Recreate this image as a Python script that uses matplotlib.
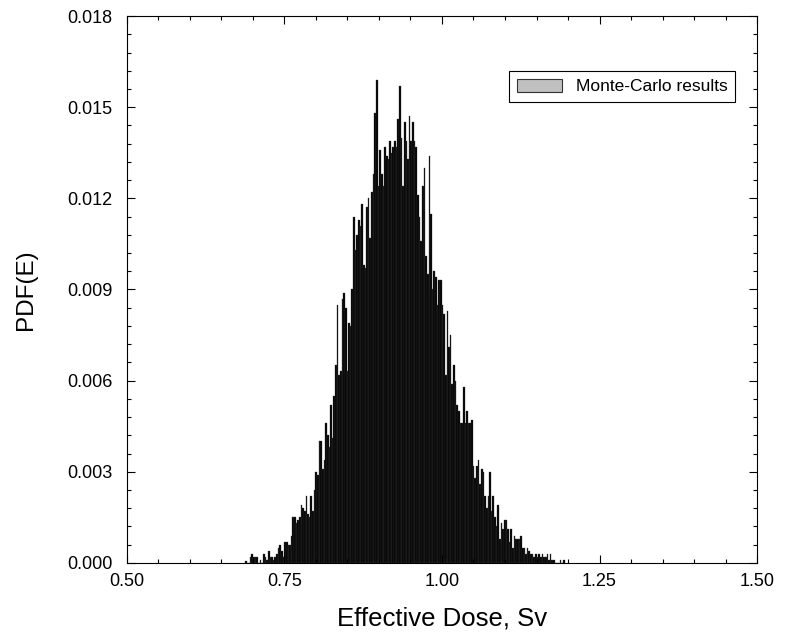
import numpy as np
import matplotlib
matplotlib.use("Agg")
import matplotlib.pyplot as plt
from matplotlib.patches import Patch
from matplotlib.ticker import MultipleLocator

plt.rcParams['font.family'] = ['Liberation Sans', 'DejaVu Sans']

# Monte-Carlo histogram of effective dose (PDF per bin)
bin_start = 0.6875
bin_width = 0.0026
pdf_values = [
    0.00005, 0.0, 0.0, 0.0002, 0.0003, 0.0002, 0.0002, 0.0002, 0.0, 0.0001,
    0.0, 0.0003, 0.0002, 0.0001, 0.0004, 0.0002, 0.0002, 0.0001, 0.0002, 0.0003,
    0.0005, 0.0006, 0.0004, 0.0002, 0.0007, 0.0007, 0.0006, 0.0006, 0.0009, 0.0015,
    0.0015, 0.0013, 0.0014, 0.0015, 0.0019, 0.0018, 0.0017, 0.0022, 0.0016, 0.0015,
    0.0022, 0.0017, 0.0024, 0.0030, 0.0029, 0.0040, 0.0040, 0.0031, 0.0034, 0.0046,
    0.0042, 0.0038, 0.0052, 0.0041, 0.0055, 0.0065, 0.0085, 0.0062, 0.0063, 0.0087,
    0.0089, 0.0084,
    0.0063, 0.0079, 0.0078, 0.0090, 0.0114, 0.0103, 0.0108, 0.0113, 0.0111, 0.0118,
    0.0098, 0.0097, 0.0117, 0.0120, 0.0107, 0.0122, 0.0128, 0.0148, 0.0159, 0.0124,
    0.0136, 0.0128, 0.0124, 0.0137, 0.0134, 0.0133, 0.0139, 0.0135, 0.0137, 0.0139,
    0.0137, 0.0146, 0.0157, 0.0140, 0.0124, 0.0145, 0.0139, 0.0133, 0.0147, 0.0139,
    0.0145, 0.0139, 0.0137, 0.0121, 0.0114, 0.0106, 0.0124, 0.0130, 0.0101, 0.0095,
    0.0134, 0.0115, 0.0090, 0.0096, 0.0094, 0.0085, 0.0093, 0.0093, 0.0085, 0.0082,
    0.0062, 0.0083, 0.0071, 0.0075, 0.0059, 0.0065, 0.0060, 0.0052, 0.0050, 0.0046,
    0.0046, 0.0058, 0.0046, 0.0050, 0.0046, 0.0046, 0.0047, 0.0032, 0.0028, 0.0032,
    0.0034, 0.0026, 0.0031, 0.0030, 0.0022, 0.0018, 0.0022, 0.0030, 0.0017, 0.0022,
    0.0015, 0.0012, 0.0019, 0.0008, 0.0013, 0.0011, 0.0014, 0.0014, 0.0011, 0.0007,
    0.0011, 0.0005, 0.0009, 0.0008, 0.0008, 0.0008, 0.0009, 0.0005, 0.0005, 0.0003,
    0.0005, 0.0004, 0.0003, 0.0003, 0.0002, 0.0003, 0.0002, 0.0003, 0.0002, 0.0003,
    0.0002, 0.0002, 0.0003, 0.0001, 0.0003, 0.0001, 0.0001, 0.0, 0.0, 0.0,
    0.0001, 0.0, 0.0001,
]
dose_centers = bin_start + bin_width * (np.arange(len(pdf_values)) + 0.5)

x_ticks = [0.50, 0.75, 1.00, 1.25, 1.50]
y_ticks = [0.000, 0.003, 0.006, 0.009, 0.012, 0.015, 0.018]

fig = plt.figure(figsize=(7.92, 6.44), dpi=100)
ax = fig.add_axes([0.160, 0.126, 0.796, 0.849])

ax.bar(dose_centers, pdf_values, width=bin_width, color='black',
       edgecolor='#3c3c3c', linewidth=0.25)

ax.set_xlim(0.5, 1.5)
ax.set_ylim(0, 0.018)
ax.set_xticks(x_ticks)
ax.set_xticklabels([f"{v:.2f}" for v in x_ticks])
ax.set_yticks(y_ticks)
ax.set_yticklabels([f"{v:.3f}" for v in y_ticks])
ax.xaxis.set_minor_locator(MultipleLocator(0.05))
ax.yaxis.set_minor_locator(MultipleLocator(0.0006))
ax.tick_params(which='both', direction='in', top=True, right=True, labelsize=13)
ax.tick_params(which='major', length=6, width=0.8)
ax.tick_params(which='minor', length=3, width=0.8)
ax.tick_params(axis='x', pad=7)
ax.tick_params(axis='y', pad=10)
for s in ax.spines.values():
    s.set_linewidth(0.8)

ax.set_xlabel("Effective Dose, Sv", fontsize=18.5, labelpad=12)
ax.set_ylabel("PDF(E)", fontsize=17.5, labelpad=22)

handle = Patch(facecolor='#c0c0c0', edgecolor='#333333', linewidth=0.8)
leg = ax.legend([handle], ["Monte-Carlo results"], loc='upper right',
                bbox_to_anchor=(0.979, 0.916), fontsize=12.5, fancybox=False,
                framealpha=1, edgecolor='black', handlelength=2.6,
                handleheight=0.8, borderpad=0.45, handletextpad=0.8)
leg.get_frame().set_linewidth(0.8)

fig.savefig("out.png", dpi=100)
